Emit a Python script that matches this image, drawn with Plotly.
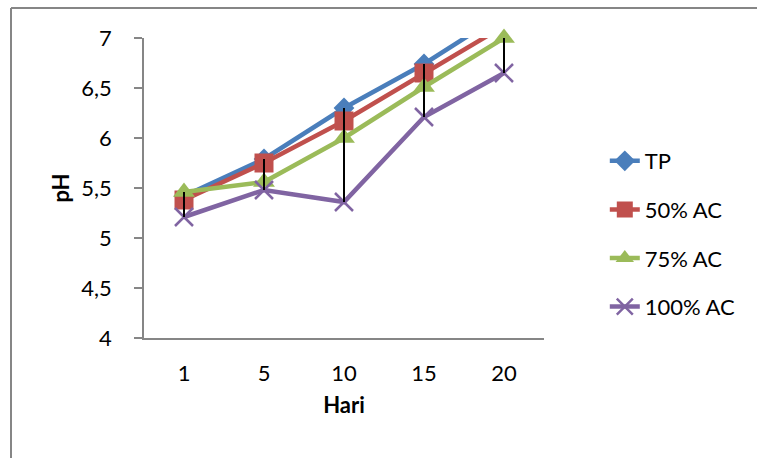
import plotly.graph_objects as go

hari = ["1", "5", "10", "15", "20"]
tp = [5.42, 5.79, 6.30, 6.74, 7.25]
ac50 = [5.38, 5.75, 6.17, 6.65, 7.12]
ac75 = [5.46, 5.56, 6.00, 6.51, 7.00]
ac100 = [5.21, 5.48, 5.36, 6.21, 6.65]
y_ticks = [4, 4.5, 5, 5.5, 6, 6.5, 7]
y_ticklabels = ["4", "4,5", "5", "5,5", "6", "6,5", "7"]

FONT = "Lato"
GRAY = "#868686"

series = [
    ("TP", tp, "#4A7EBB", dict(symbol="diamond", size=16)),
    ("50% AC", ac50, "#C0504D", dict(symbol="square", size=19)),
    ("75% AC", ac75, "#9BBB59", dict(symbol="triangle-up", size=19)),
    ("100% AC", ac100, "#8064A2", dict(symbol="x-thin", size=18)),
]

fig = go.Figure()
for i, (name, vals, color, mk) in enumerate(series):
    marker = dict(color=color, line=dict(color=color, width=2.5 if mk["symbol"] == "x-thin" else 0), **mk)
    fig.add_trace(go.Scatter(
        x=hari, y=vals, name=name, mode="lines+markers",
        line=dict(color=color, width=4.5), marker=marker,
        legendgroup=name, cliponaxis=(name != "75% AC"),
    ))

# high-low lines
hx, hy = [], []
for j, c in enumerate(hari):
    vals = [tp[j], ac50[j], ac75[j], ac100[j]]
    hx += [c, c, None]
    hy += [max(vals), min(vals), None]
fig.add_trace(go.Scatter(x=hx, y=hy, mode="lines", line=dict(color="black", width=2),
                         showlegend=False, hoverinfo="skip"))

bx0 = (11 - 144) / 400
bx1 = (757 - 144) / 400
by1 = (338 - 8) / 300
by0 = (338 - 458) / 300
fig.update_layout(
    width=757, height=458,
    margin=dict(l=144, r=213, t=38, b=120, autoexpand=False),
    paper_bgcolor="white", plot_bgcolor="white",
    font=dict(family=FONT, size=22, color="black"),
    showlegend=True,
    legend=dict(x=1.152, y=0.66, xanchor="left", yanchor="top",
                font=dict(size=22, family=FONT), tracegroupgap=17,
                bgcolor="rgba(0,0,0,0)"),
    xaxis=dict(type="category", range=[-0.5, 4.5], showline=True, linecolor=GRAY, linewidth=1.5,
               showgrid=False, zeroline=False, ticks="", ticklabelstandoff=15,
               tickfont=dict(size=22, family=FONT),
               title=dict(text="<b>Hari</b>", font=dict(size=22, family=FONT), standoff=12)),
    yaxis=dict(range=[4, 7], tickvals=y_ticks, ticktext=y_ticklabels, showline=True,
               linecolor=GRAY, linewidth=1.5, showgrid=False, zeroline=False,
               ticks="outside", ticklen=8, tickwidth=1.5, tickcolor=GRAY, ticklabelstandoff=18,
               tickfont=dict(size=22, family=FONT),
               title=dict(text="<b>pH</b>", font=dict(size=22, family=FONT), standoff=6)),
    shapes=[
        dict(type="line", xref="paper", yref="paper", x0=bx0, x1=bx1, y0=by1, y1=by1,
             line=dict(color=GRAY, width=2)),
        dict(type="line", xref="paper", yref="paper", x0=bx0, x1=bx0, y0=by1, y1=by0,
             line=dict(color=GRAY, width=2)),
    ],
)

fig.write_html("out.html", config={"displayModeBar": False},
               post_script="document.documentElement.style.overflow='hidden';"
                           "document.body.style.margin='0';document.body.style.overflow='hidden';")
